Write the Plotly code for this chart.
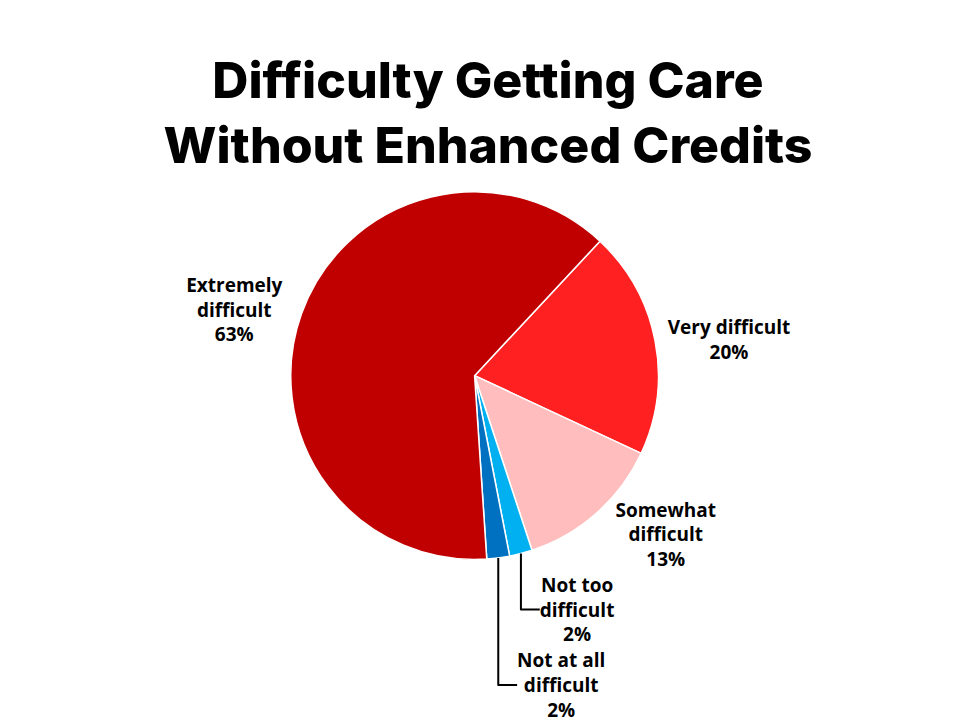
import plotly.graph_objects as go

labels = ["Very difficult", "Somewhat difficult", "Not too difficult", "Not at all difficult", "Extremely difficult"]
text_labels = ["Very difficult", "Somewhat<br>difficult", "Not too<br>difficult", "Not at all<br>difficult", "Extremely<br>difficult"]
values = [20, 13, 2, 2, 63]
colors = ["#FF2121", "#FFBDBD", "#00B0F0", "#0070C0", "#C00000"]

fig = go.Figure(go.Pie(
    labels=labels, values=values, text=text_labels,
    texttemplate="%{text}<br>%{value}%", textposition="outside",
    sort=False, direction="clockwise", rotation=43,
    marker=dict(colors=colors, line=dict(color="white", width=1.5)),
    textfont=dict(family="Open Sans", size=19, color="black", weight="bold"),
    showlegend=False, hoverinfo="label+value",
    domain=dict(x=[0.15, 0.84], y=[0.07, 0.69]),
))
fig.update_layout(
    width=960, height=720, paper_bgcolor="white", plot_bgcolor="white",
    margin=dict(l=0, r=0, t=0, b=0),
    title=dict(text="Difficulty Getting Care<br>Without Enhanced Credits",
               x=0.5, xanchor="center", y=0.875, yanchor="middle",
               font=dict(family="Inter", size=50, color="black", weight=800)),
)
fig.write_html("out.html")
